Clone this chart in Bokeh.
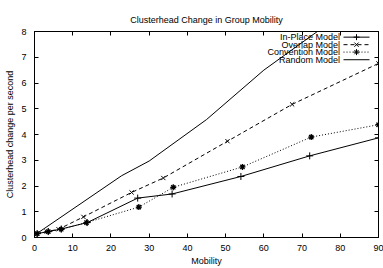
from bokeh.plotting import figure
from bokeh.models import Range1d, LinearAxis, FixedTicker, ColumnDataSource, CustomJSTickFormatter
from bokeh.core.properties import value
from bokeh.embed import file_html
from bokeh.resources import INLINE

TITLE = "Clusterhead Change in Group Mobility"
XLABEL = "Mobility"
YLABEL = "Clusterhead change per second"
x_ticks = [0, 10, 20, 30, 40, 50, 60, 70, 80, 90]
y_ticks = [0, 1, 2, 3, 4, 5, 6, 7, 8]

series_names = ["In-Place Model", "Overlap Model", "Convention Model", "Random Model"]
inplace_x = [0.7, 3.6, 7.0, 13.8, 27.0, 36.0, 54.0, 72.0, 90.0]
inplace_y = [0.15, 0.23, 0.33, 0.58, 1.53, 1.69, 2.37, 3.17, 3.87]
overlap_x = [0.65, 3.2, 6.3, 12.8, 25.4, 33.7, 50.5, 67.4, 90.0]
overlap_y = [0.15, 0.23, 0.32, 0.80, 1.75, 2.31, 3.74, 5.17, 6.76]
convention_x = [0.7, 3.6, 7.0, 13.6, 27.3, 36.3, 54.4, 72.4, 90.0]
convention_y = [0.15, 0.23, 0.32, 0.58, 1.18, 1.95, 2.74, 3.90, 4.38]
random_x = [0.6, 22.8, 30.0, 45.0, 60.0, 74.0, 90.0]
random_y = [0.15, 2.40, 2.97, 4.58, 6.50, 8.00, 9.70]

FONT = "Liberation Sans"

p = figure(width=383, height=268, output_backend="svg", toolbar_location=None,
           x_range=Range1d(0, 90), y_range=Range1d(0, 8),
           min_border_left=34, min_border_right=5, min_border_top=31, min_border_bottom=29)
p.title.text = TITLE
p.title.align = "center"
p.title.text_font = FONT
p.title.text_font_size = "9px"
p.title.text_font_style = "normal"
p.title.text_color = "black"
p.title.standoff = 13
p.grid.visible = False
p.outline_line_color = "black"
p.outline_line_width = 1
p.background_fill_color = "white"
p.border_fill_color = "white"

for ax in (p.xaxis[0], p.yaxis[0]):
    ax.major_tick_in = 4
    ax.major_tick_out = 0
    ax.minor_tick_line_color = None
    ax.axis_line_color = "black"
    ax.major_tick_line_color = "black"
    ax.major_label_text_font = FONT
    ax.major_label_text_font_size = "9px"
    ax.major_label_text_color = "black"
    ax.axis_label_text_font = FONT
    ax.axis_label_text_font_size = "9px"
    ax.axis_label_text_font_style = "normal"
    ax.axis_label_text_color = "black"
p.xaxis[0].ticker = FixedTicker(ticks=x_ticks)
p.yaxis[0].ticker = FixedTicker(ticks=y_ticks)
p.xaxis[0].axis_label = XLABEL
p.yaxis[0].axis_label = YLABEL
p.xaxis[0].major_label_standoff = 7
p.xaxis[0].axis_label_standoff = 2
p.yaxis[0].major_label_standoff = 8
p.yaxis[0].axis_label_standoff = 3

blank = CustomJSTickFormatter(code="return ''")
top = LinearAxis(ticker=FixedTicker(ticks=x_ticks), formatter=blank, major_tick_in=4, major_tick_out=0,
                 minor_tick_line_color=None, major_label_standoff=0, axis_line_color="black")
right = LinearAxis(ticker=FixedTicker(ticks=y_ticks), formatter=blank, major_tick_in=4, major_tick_out=0,
                   minor_tick_line_color=None, major_label_standoff=0, axis_line_color="black")
p.add_layout(top, "above")
p.add_layout(right, "right")

p.line(inplace_x, inplace_y, line_color="black", line_width=1)
p.scatter(inplace_x, inplace_y, marker="cross", size=7, line_color="black", line_width=1)
p.line(overlap_x, overlap_y, line_color="black", line_width=1, line_dash="4 3")
p.scatter(overlap_x, overlap_y, marker="x", size=6, line_color="black", line_width=1)
p.line(convention_x, convention_y, line_color="black", line_width=1, line_dash="1 2")
p.scatter(convention_x, convention_y, marker="asterisk", size=6, line_color="black", line_width=1.3)
p.line(random_x, random_y, line_color="black", line_width=1)

p.extra_x_ranges["leg"] = Range1d(0, 344)
p.extra_y_ranges["leg"] = Range1d(0, 208)
leg_y = [202.3, 194.7, 187.2, 179.5]
leg_src = ColumnDataSource(dict(x=[305.6] * 4, y=leg_y, t=series_names))
p.text(x="x", y="y", text="t", source=leg_src, x_range_name="leg", y_range_name="leg",
       text_align="right", text_baseline="middle", text_font=value(FONT),
       text_font_size="9px", text_color="black")
dashes = ["solid", "4 3", "1 2", "solid"]
markers = ["cross", "x", "asterisk", None]
for yy, d, m in zip(leg_y, dashes, markers):
    p.line([309, 335], [yy, yy], line_color="black", line_width=1, line_dash=d,
           x_range_name="leg", y_range_name="leg")
    if m:
        p.scatter([322], [yy], marker=m, size=6, line_color="black", line_width=1,
                  x_range_name="leg", y_range_name="leg")

open("out.html", "w").write(file_html(p, INLINE))
